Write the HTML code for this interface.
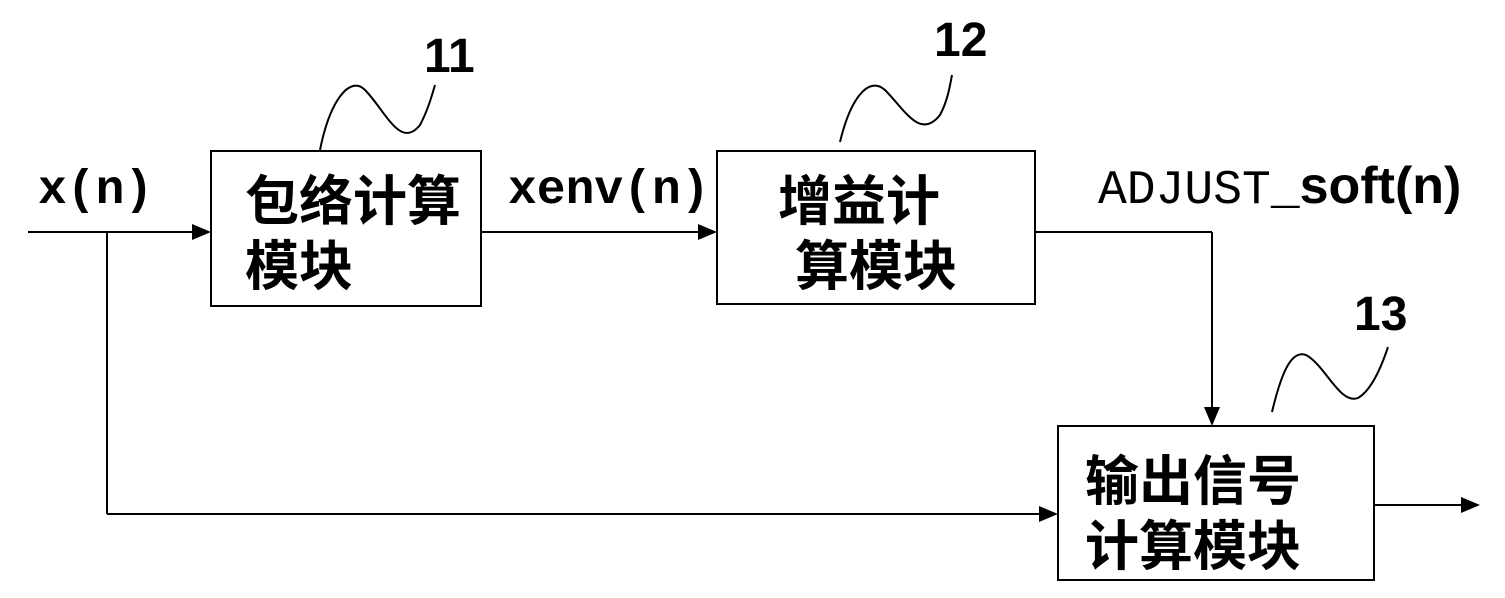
<!DOCTYPE html>
<html><head><meta charset="utf-8"><style>
html,body{margin:0;padding:0;background:#fff;}
svg{display:block;}
.cjk{font-family:"Liberation Sans","Noto Sans CJK SC",sans-serif;font-weight:bold;font-size:54px;fill:#000;}
.lab{font-family:"Liberation Mono","DejaVu Sans Mono",monospace;font-size:48px;fill:#000;}
.num{font-family:"Liberation Sans",sans-serif;font-weight:bold;font-size:48px;fill:#000;}
</style></head><body>
<svg width="1505" height="598" viewBox="0 0 1505 598" xmlns="http://www.w3.org/2000/svg">
<g stroke="#000" stroke-width="2" fill="none">
<rect x="211" y="151" width="270" height="155"/>
<rect x="717" y="151" width="318" height="153"/>
<rect x="1058" y="426" width="316" height="154"/>
<line x1="28" y1="232" x2="195" y2="232"/>
<line x1="107" y1="232" x2="107" y2="514"/>
<line x1="107" y1="514" x2="1040" y2="514"/>
<line x1="481" y1="232" x2="700" y2="232"/>
<line x1="1035" y1="232" x2="1212" y2="232"/>
<line x1="1212" y1="232" x2="1212" y2="408"/>
<line x1="1374" y1="505" x2="1462" y2="505"/>
<path d="M320 150 C330 100 350 75 365 90 C385 110 400 150 420 125 C428 110 432 95 435 85"/>
<path d="M840 142 C850 100 868 75 885 90 C905 110 920 140 940 115 C948 100 950 85 952 75"/>
<path d="M1272 412 C1282 370 1292 350 1306 355 C1325 365 1340 405 1358 398 C1372 390 1382 365 1388 347"/>
</g>
<g fill="#000">
<polygon points="211,232 192,224 192,240"/>
<polygon points="717,232 698,224 698,240"/>
<polygon points="1058,514 1039,506 1039,522"/>
<polygon points="1212,426 1204,407 1220,407"/>
<polygon points="1480,505 1461,497 1461,513"/>
</g>
<text class="lab" x="38" y="203" font-weight="bold">x(n)</text>
<text class="lab" x="508" y="203" font-weight="bold">xenv(n)</text>
<text class="lab" x="1098" y="203">ADJUST_<tspan font-family="Liberation Sans" font-weight="bold" font-size="52">soft(n)</tspan></text>
<text class="num" x="424" y="72">11</text>
<text class="num" x="934" y="56">12</text>
<text class="num" x="1354" y="330">13</text>
<text class="cjk" x="245" y="220">包络计算</text>
<text class="cjk" x="245" y="285">模块</text>
<text class="cjk" x="778" y="220">增益计</text>
<text class="cjk" x="795" y="285">算模块</text>
<text class="cjk" x="1085" y="500">输出信号</text>
<text class="cjk" x="1085" y="565">计算模块</text>
</svg>
</body></html>
